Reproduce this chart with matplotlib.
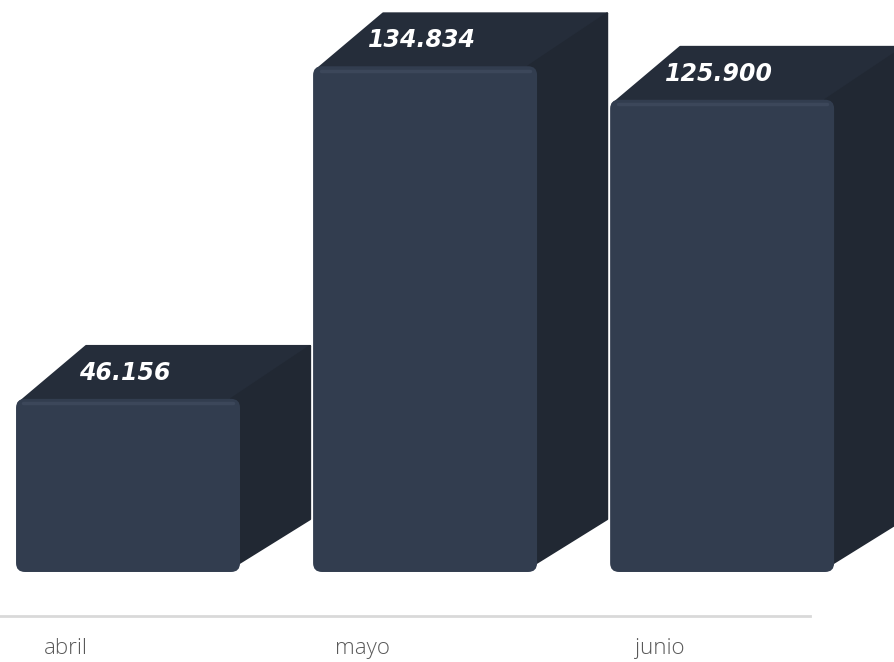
import matplotlib.pyplot as plt
from matplotlib.patches import Polygon, FancyBboxPatch

meses = ['abril', 'mayo', 'junio']
valores = [46.156, 134.834, 125.900]
etiquetas = ['46.156', '134.834', '125.900']

FRENTE = '#323d4f'
ARRIBA = '#252d3a'
LADO = '#212833'

fig = plt.figure(figsize=(8.95, 6.62), dpi=100)
ax = fig.add_axes([0, 0, 1, 1])
ax.set_xlim(-0.431, 2.582)
ax.set_ylim(-24, 152.5)
ax.axis('off')

ancho = 0.754
dx = 0.236   # profundidad en x
dy = 14.1    # profundidad en y

xs = list(range(len(meses)))
for x, v, lab in zip(xs, valores, etiquetas):
    izq = x - ancho / 2
    der = x + ancho / 2
    # cara superior
    ax.add_patch(Polygon([(izq + 0.01, v - 1), (der, v - 1), (der + dx, v + dy),
                          (izq + dx, v + dy)],
                         closed=True, facecolor=ARRIBA, edgecolor=ARRIBA,
                         lw=1.5, joinstyle='round', zorder=2))
    # cara lateral
    ax.add_patch(Polygon([(der - 0.02, 1.5), (der + dx, dy), (der + dx, v + dy),
                          (der - 0.03, v)],
                         closed=True, facecolor=LADO, edgecolor=LADO,
                         lw=1.5, joinstyle='round', zorder=2))
    # cara frontal
    ax.add_patch(FancyBboxPatch((izq, 0), ancho, v,
                                boxstyle='round,pad=0,rounding_size=0.03',
                                mutation_aspect=79,
                                facecolor=FRENTE, edgecolor='none', zorder=3))
    # brillo del borde superior
    ax.plot([izq + 0.025, der - 0.025], [v - 1.2, v - 1.2], color='#3c475a',
            lw=2.5, solid_capstyle='round', zorder=4)
    ax.text(x - 0.012, v + 7, lab, ha='center', va='center', color='white',
            fontsize=17, fontweight='bold', fontstyle='italic',
            family='DejaVu Sans', zorder=5)

ax.plot([-0.431, 2.296], [-11.7, -11.7], color='#d9d9d9', lw=2, zorder=1)

for x, m in zip(xs, meses):
    ax.text(x - 0.21, -20.3, m, ha='center', va='center', color='#595959',
            fontsize=16, family='Open Sans', fontweight='light')

fig.savefig('out.png', dpi=100)
